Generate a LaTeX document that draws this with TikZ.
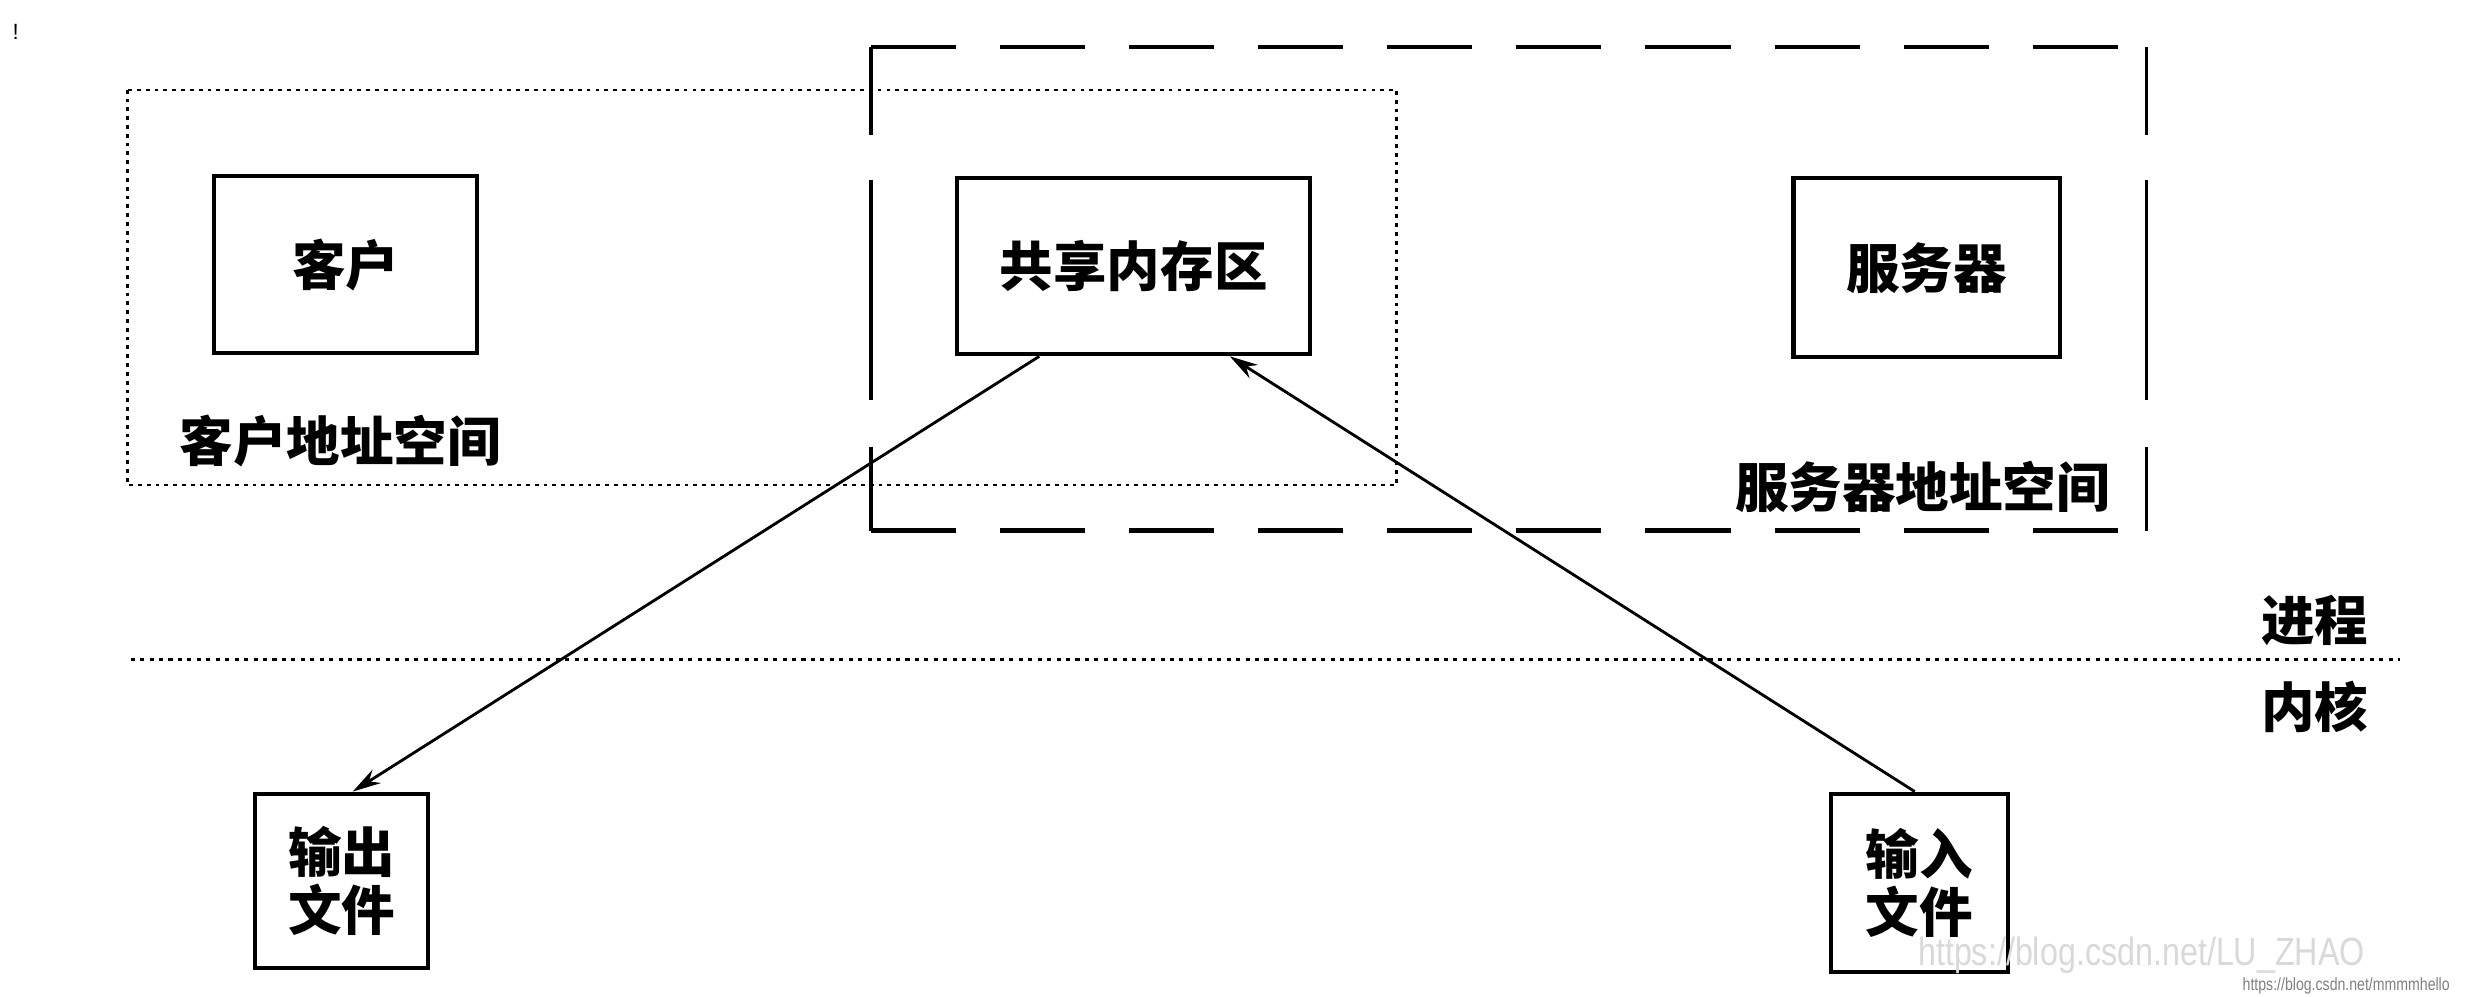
\documentclass[tikz,border=0pt]{standalone}
\usepackage{fontspec}
\setmainfont{Liberation Sans}
\newfontfamily\cjk{Noto Sans CJK SC}
\usetikzlibrary{arrows.meta,calc}
\tikzset{
  cjktext/.style={font=\cjk\bfseries\fontsize{17}{18.5}\selectfont, inner sep=0pt, align=center},
  boxnode/.style={cjktext, draw=black, line width=1.3pt},
  dotbox/.style={draw=black, line width=0.8pt, dash pattern=on 1.2pt off 1.6pt},
  dashh/.style={draw=black, line width=1.4pt, dash pattern=on 27pt off 14pt},
  dashv/.style={draw=black, line width=1.1pt},
  dotline/.style={draw=black, line width=1pt, dash pattern=on 1.3pt off 1.7pt},
  conn/.style={draw=black, line width=0.9pt, -{Stealth[length=9pt,width=5pt]}},
}
\begin{document}
\begin{tikzpicture}[x=0.5pt,y=-0.5pt]
\useasboundingbox[fill=white] (0,0) rectangle (1568,633);

% client address space (dotted)
\draw[dotbox] (81,57) rectangle (887,308);
% server address space (dashed)
\draw[dashh] (553,30) -- (1363,30);
\draw[dashh] (553,337) -- (1363,337);
\draw[dashv] (553,30) -- (553,86) (553,114) -- (553,254) (553,284) -- (553,337);
\draw[dashv] (1363,30) -- (1363,86) (1363,114) -- (1363,254) (1363,284) -- (1363,337);

% boxes
\node[boxnode, minimum width=83.5pt, minimum height=56pt] (client) at (219.5,168) {客户};
\node[boxnode, minimum width=112pt, minimum height=56pt] (shm) at (720,169) {共享内存区};
\node[boxnode, minimum width=84.5pt, minimum height=57pt] (server) at (1223.5,170) {服务器};
\node[boxnode, minimum width=55pt, minimum height=55.5pt] (outf) at (217,559.5) {输出\\文件};
\node[boxnode, minimum width=56pt, minimum height=56.5pt] (inf) at (1219,560.5) {输入\\文件};

% labels
\node[cjktext] (clientspace) at (216,280) {客户地址空间};
\node[cjktext] (serverspace) at (1221,309) {服务器地址空间};
\node[cjktext] (proc) at (1470,394) {进程};
\node[cjktext] (kern) at (1470,449) {内核};

% process / kernel divider
\coordinate (divL) at (83,419);
\coordinate (divR) at (1524,419);
\draw[dotline] (divL) -- (divR);

% connectors
\draw[conn] ([xshift=-30pt]shm.south) -- ([xshift=3.5pt]outf.north);
\draw[conn] ([xshift=-1.5pt]inf.north) -- ([xshift=30.5pt]shm.south);

% stray mark and watermarks
\node[font=\fontsize{7}{8}\selectfont, inner sep=0pt] (bang) at (10,20) {!};
\node[font=\fontsize{12.5}{14}\selectfont, text=black!15, inner sep=0pt, xscale=0.82] (wm1) at (1360,607) {https://blog.csdn.net/LU\_ZHAO};
\node[font=\fontsize{5.6}{6}\selectfont, text=black!50, inner sep=0pt, xscale=0.8] (wm2) at (1490,626) {https://blog.csdn.net/mmmmhello};
\end{tikzpicture}
\end{document}
